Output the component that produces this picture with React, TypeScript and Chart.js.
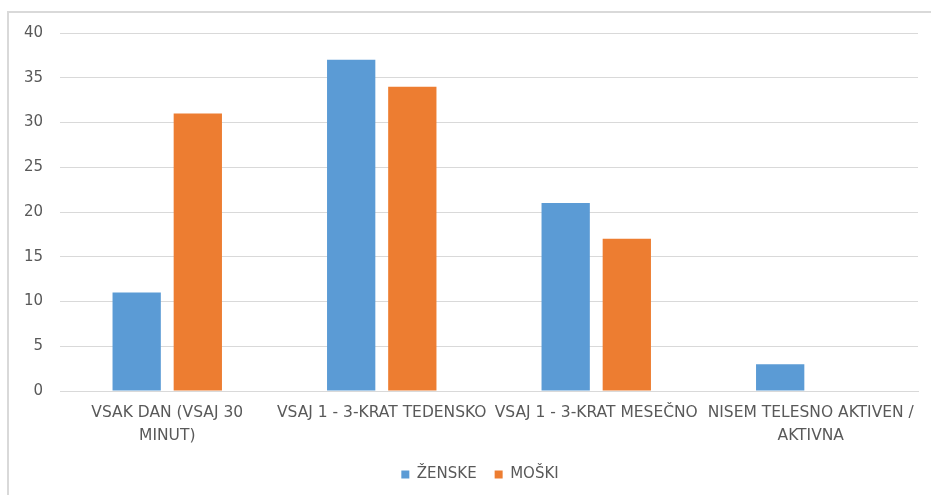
import React, { useEffect, useRef } from "react";
import { Chart, registerables } from "chart.js";

Chart.register(...registerables);

const categories: string[][] = [
  ["VSAK DAN (VSAJ 30", "MINUT)"],
  ["VSAJ 1 - 3-KRAT TEDENSKO"],
  ["VSAJ 1 - 3-KRAT MESEČNO"],
  ["NISEM TELESNO AKTIVEN /", "AKTIVNA"],
];
const zenske: number[] = [11, 37, 21, 3];
const moski: number[] = [31, 34, 17, 0];

const FONT = "'DejaVu Sans', sans-serif";

const legendShift = {
  id: "legendShift",
  afterLayout(chart: any) {
    if (chart.legend) {
      chart.legend.left += 21;
      chart.legend.right += 21;
    }
  },
};

export default function App() {
  const ref = useRef<HTMLCanvasElement | null>(null);
  useEffect(() => {
    document.body.style.margin = "0";
    if (!ref.current) return;
    const chart = new Chart(ref.current, {
      type: "bar",
      data: {
        labels: categories,
        datasets: [
          {
            label: "ŽENSKE",
            data: zenske,
            backgroundColor: "#5B9BD5",
            categoryPercentage: 0.57,
            barPercentage: 0.79,
          },
          {
            label: "MOŠKI",
            data: moski,
            backgroundColor: "#ED7D31",
            categoryPercentage: 0.57,
            barPercentage: 0.79,
          },
        ],
      },
      plugins: [legendShift],
      options: {
        responsive: false,
        animation: false,
        layout: { padding: { left: 0, right: 13, top: 33, bottom: 3 } },
        scales: {
          x: {
            grid: { display: false, drawTicks: false },
            border: { color: "#d9d9d9" },
            ticks: {
              color: "#595959",
              font: { family: FONT, size: 15.5, lineHeight: 1.5 },
              maxRotation: 0,
              autoSkip: false,
              padding: 10,
            },
            afterFit: (s: any) => {
              s.height = 58;
            },
          },
          y: {
            min: 0,
            max: 40,
            grid: { color: "#d9d9d9", drawTicks: false },
            border: { display: false },
            ticks: {
              stepSize: 5,
              color: "#595959",
              font: { family: FONT, size: 15 },
              padding: 17,
            },
            afterFit: (s: any) => {
              s.width = 60;
            },
          },
        },
        plugins: {
          legend: {
            position: "bottom",
            labels: {
              color: "#595959",
              font: { family: FONT, size: 15, lineHeight: 0.6 },
              boxWidth: 8,
              boxHeight: 8,
              padding: 18,
            },
          },
          tooltip: { enabled: false },
        },
      },
    });
    return () => chart.destroy();
  }, []);
  return (
    <div style={{ position: "relative", width: 931, height: 495, background: "#fff", overflow: "hidden" }}>
      <canvas ref={ref} width={931} height={495} style={{ position: "absolute", left: 0, top: 0 }} />
      <div
        style={{
          position: "absolute",
          left: 7,
          top: 11,
          width: 922,
          height: 484,
          borderTop: "2px solid #d9d9d9",
          borderLeft: "2px solid #d9d9d9",
          pointerEvents: "none",
        }}
      />
    </div>
  );
}
